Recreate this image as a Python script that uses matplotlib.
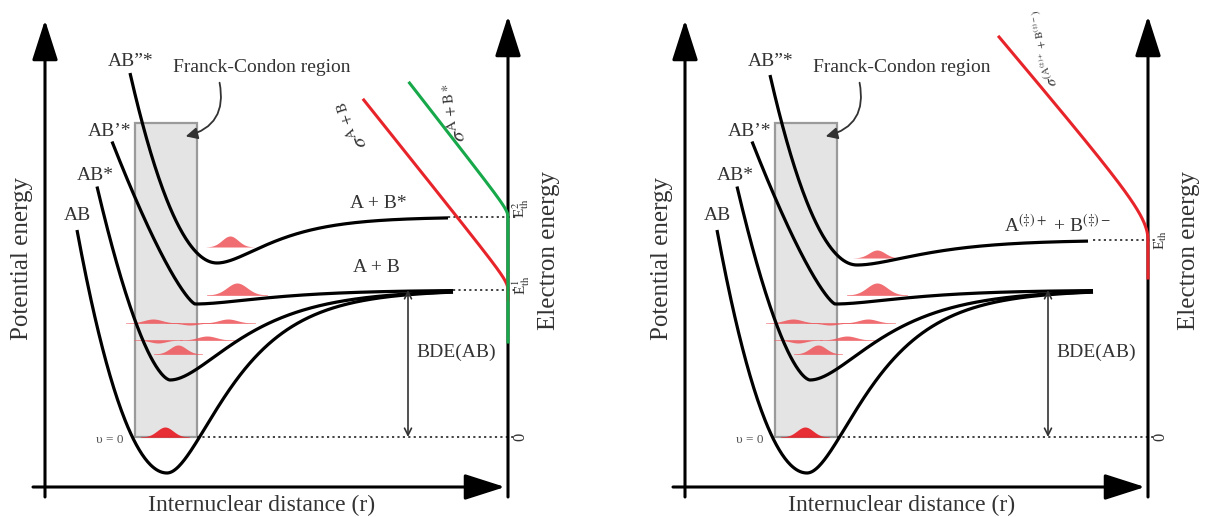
import numpy as np
import matplotlib.pyplot as plt
from matplotlib.patches import Rectangle, FancyArrowPatch

plt.rcParams['font.family'] = ['Liberation Serif', 'DejaVu Serif']
plt.rcParams['mathtext.fontset'] = 'stix'

W, H = 1214, 517
INK = '#333333'
RED = '#e8242b'
PINK = '#ee5358'
GREEN = '#17a84a'

# horizontal offset of the right panel (px)
panel_dx = [0, 640]

# potential curves, left panel (pixel units, y grows downward)
state_names = ['AB', 'AB*', 'AB’*', 'AB”*']
state_r0 = [167, 170, 195, 217]
state_ymin = [473, 380, 304, 263]
state_yasym = [290, 290, 290, 217]
state_wall_c = [0.03, 0.202, 0.52, 0.0251]
state_wall_p = [2.0, 1.6, 1.3, 2.0]
state_morse_a = [0.018, 0.016, 0.015, 0.02]
state_xstart = [77, 97, 112, 130]
state_xend = [453, 453, 453, 448]
state_label_x = [77, 95, 110, 131]
state_label_y = [216, 175, 132, 61]

# upper state in the right panel (ion pair A(+) + B(-))
ion_ymin, ion_yasym, ion_a = 265, 240, 0.0165

# vibrational wave packets (shared by both panels)
wp_x = [165, 237, 153, 190, 228, 158, 207, 178]
wp_base = [437, 295, 323, 323, 323, 340, 340, 354]
wp_amp = [10, 12, 4, -2, 4, -3, 4, 9]
wp_sig = [8, 10, 9, 8, 9, 8, 9, 8]
# packet on the upper state, per panel
top_wp_x = [230, 237]
top_wp_base = [247, 258]
top_wp_amp = [11, 8]

# cross-section curves next to the electron energy axis
sig_panel = [0, 0, 1]
sig_eth = [290, 217, 240]
sig_scale = [0.8, 0.78, 0.85]
sig_b = [10, 8, 30]
sig_hmax = [190, 134, 203]
sig_tail = [10, 125, 38]
sig_color = [RED, GREEN, RED]
sig_label = [r'$\sigma^{\mathrm{A\,+\,B}}$', r'$\sigma^{\mathrm{A\,+\,B*}}$',
             r'$\sigma^{(\mathrm{A}^{(\ddag)+}\,+\,\mathrm{B}^{(\ddag)-})}$']
sig_label_x = [355, 457, 1045]
sig_label_y = [123, 112, 48]
sig_label_rot = [108, 96, 100]

AX_X = 508  # electron energy axis, left panel


def potential(x, r0, ymin, yasym, c, p, a):
    dx = x - r0
    wall = ymin - c * np.abs(dx) ** p
    morse = ymin - (ymin - yasym) * (1 - np.exp(-a * dx)) ** 2
    return np.where(dx < 0, wall, morse)


fig = plt.figure(figsize=(W / 100, H / 100), dpi=100)
ax = fig.add_axes([0, 0, 1, 1])
ax.set_xlim(0, W)
ax.set_ylim(H, 0)
ax.axis('off')

arrow_kw = dict(arrowstyle='-|>,head_length=1.25,head_width=0.4', color='black',
                lw=2.2, mutation_scale=20, shrinkA=0, shrinkB=0)
dots = dict(ls=(0, (1.2, 1.8)), color=INK, lw=1.3, zorder=2)

for k, off in enumerate(panel_dx):
    # axes
    ax.annotate('', xy=(45 + off, 20), xytext=(45 + off, 497), arrowprops=arrow_kw, zorder=5)
    ax.annotate('', xy=(AX_X + off, 16), xytext=(AX_X + off, 497), arrowprops=arrow_kw, zorder=5)
    ax.annotate('', xy=(505 + off, 487), xytext=(33 + off, 487), arrowprops=arrow_kw, zorder=5)

    ax.text(22 + off, 258, 'Potential energy', rotation=90, fontsize=18,
            ha='center', va='center', color=INK)
    ax.text(549 + off, 250, 'Electron energy', rotation=90, fontsize=18,
            ha='center', va='center', color=INK)
    ax.text(262 + off, 505, 'Internuclear distance (r)', fontsize=17,
            ha='center', va='center', color=INK)

    # Franck-Condon region
    ax.add_patch(Rectangle((135 + off, 123), 62, 314, facecolor='#e4e4e4',
                           edgecolor='#9a9a9a', lw=1.6, zorder=1))
    ax.text(173 + off, 68, 'Franck-Condon region', fontsize=14, ha='left',
            va='center', color=INK)
    ax.add_patch(FancyArrowPatch((219 + off, 80), (183 + off, 137),
                                 connectionstyle='arc3,rad=-0.5',
                                 arrowstyle='-|>,head_length=7,head_width=3.5',
                                 color=INK, lw=1.3, zorder=4))

    # wave packets
    for x0, b0, amp, s in zip(wp_x, wp_base, wp_amp, wp_sig):
        xs = np.linspace(x0 - 3 * s, x0 + 3 * s, 80) + off
        ys = b0 - amp * np.exp(-((xs - off - x0) ** 2) / (2 * s * s))
        col = RED if b0 == 437 else PINK
        ax.fill_between(xs, b0, ys, color=col, lw=0, alpha=0.95 if b0 == 437 else 0.85, zorder=2)
        ax.plot(xs, np.full_like(xs, b0), color=col, lw=0.6, alpha=0.6, zorder=2)
    xs = np.linspace(top_wp_x[k] - 24, top_wp_x[k] + 24, 80) + off
    ys = top_wp_base[k] - top_wp_amp[k] * np.exp(-((xs - off - top_wp_x[k]) ** 2) / 128)
    ax.fill_between(xs, top_wp_base[k], ys, color=PINK, lw=0, alpha=0.85, zorder=2)

    # potential curves
    for i in range(4):
        ymin, yasym, a = state_ymin[i], state_yasym[i], state_morse_a[i]
        if k == 1 and i == 3:
            ymin, yasym, a = ion_ymin, ion_yasym, ion_a
        xs = np.linspace(state_xstart[i], state_xend[i], 400)
        ys = potential(xs, state_r0[i], ymin, yasym, state_wall_c[i], state_wall_p[i], a)
        ax.plot(xs + off, ys, color='black', lw=2.3, solid_capstyle='butt', zorder=3)
        ax.text(state_label_x[i] + off, state_label_y[i], state_names[i], fontsize=14,
                ha='center', va='center', color=INK)

    # dotted reference levels
    ax.plot([197 + off, AX_X + 8 + off], [437, 437], **dots)
    ax.text(520 + off, 437, '0', rotation=90, fontsize=12, ha='center', va='center', color=INK)
    ax.text(123 + off, 440, 'υ = 0', fontsize=9.5, ha='right', va='center', color='#555555')

    # bond dissociation energy
    ax.annotate('', xy=(408 + off, 290), xytext=(408 + off, 437),
                arrowprops=dict(arrowstyle='<->,head_length=0.5,head_width=0.25',
                                color=INK, lw=1.2, shrinkA=0, shrinkB=0))
    ax.text(416 + off, 352, 'BDE(AB)', fontsize=14, ha='left', va='center', color=INK)

# level labels, left panel
ax.plot([453, AX_X + 8], [290, 290], **dots)
ax.plot([448, AX_X + 8], [217, 217], **dots)
ax.text(378, 203, 'A + B*', fontsize=14, ha='center', va='center', color=INK)
ax.text(376, 268, 'A + B', fontsize=14, ha='center', va='center', color=INK)
ax.text(521, 208, r'E$^{2}_{\mathrm{th}}$', rotation=90, fontsize=11, ha='center', va='center', color=INK)
ax.text(521, 285, r'E$^{1}_{\mathrm{th}}$', rotation=90, fontsize=11, ha='center', va='center', color=INK)

# level labels, right panel
ax.plot([1093, AX_X + 648], [240, 240], **dots)
ax.text(1057, 225, r'A$^{(\ddag)+}$ + B$^{(\ddag)-}$', fontsize=14, ha='center', va='center', color=INK)
ax.text(1161, 240, r'E$_{\mathrm{th}}$', rotation=90, fontsize=11, ha='center', va='center', color=INK)

# cross sections
for j in range(3):
    axx = AX_X + panel_dx[sig_panel[j]]
    h = np.linspace(0, sig_hmax[j], 200)
    offs = sig_scale[j] * (np.sqrt(h ** 2 + sig_b[j] ** 2) - sig_b[j])
    xs = np.concatenate([np.full(2, axx), axx - offs])
    ys = np.concatenate([[sig_eth[j] + sig_tail[j], sig_eth[j]], sig_eth[j] - h])
    ax.plot(xs, ys, color=sig_color[j], lw=2.2, zorder=6)
    ax.text(sig_label_x[j], sig_label_y[j], sig_label[j], rotation=sig_label_rot[j],
            fontsize=15 if j < 2 else 11, ha='center', va='center', color=INK)

fig.savefig('out.png', dpi=100)
